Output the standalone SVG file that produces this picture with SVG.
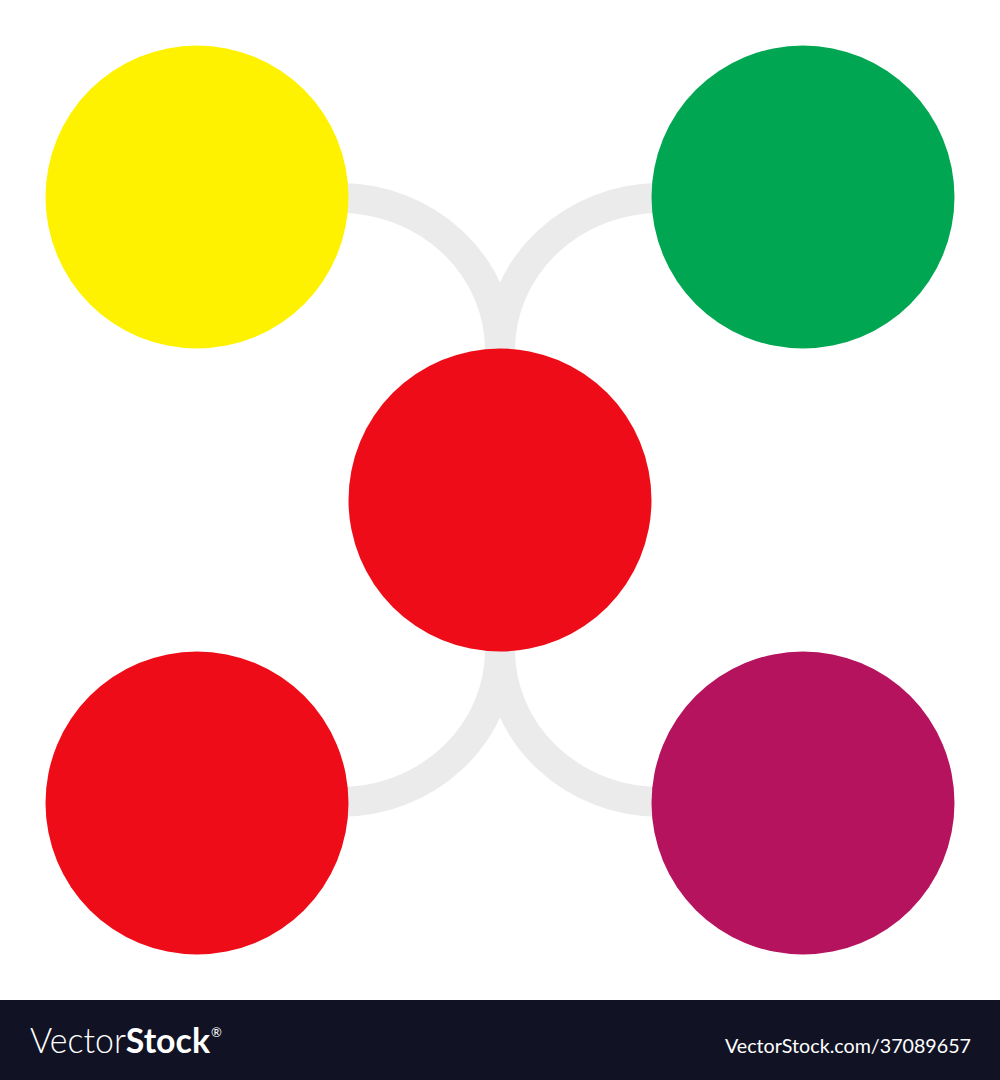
<svg xmlns="http://www.w3.org/2000/svg" width="1000" height="1080" viewBox="0 0 1000 1080">
  <style>
    .link { fill: none; stroke: #ebebeb; stroke-width: 30; }
    .bar-text { fill: #ffffff; font-family: Lato, "Liberation Sans", sans-serif; }
  </style>
  <rect x="0" y="0" width="1000" height="1080" fill="#ffffff"/>
  <g id="connectors">
    <path class="link" d="M 340 198 A 160 152 0 0 1 500 350"/>
    <path class="link" d="M 660 198 A 160 152 0 0 0 500 350"/>
    <path class="link" d="M 340 802 A 160 152 0 0 0 500 650"/>
    <path class="link" d="M 660 802 A 160 152 0 0 1 500 650"/>
  </g>
  <g id="node-yellow"><circle cx="197" cy="197" r="151.5" fill="#fff200"/></g>
  <g id="node-green"><circle cx="803" cy="197" r="151.5" fill="#00a651"/></g>
  <g id="node-center"><circle cx="500" cy="500" r="151.5" fill="#ed0c17"/></g>
  <g id="node-red"><circle cx="197" cy="803" r="151.5" fill="#ed0c17"/></g>
  <g id="node-purple"><circle cx="803" cy="803" r="151.5" fill="#b5135e"/></g>
  <g id="footer">
    <rect x="0" y="1000" width="1000" height="80" fill="#111324"/>
    <text class="bar-text" x="30" y="1053" font-size="35" textLength="180" lengthAdjust="spacingAndGlyphs"><tspan font-weight="300">Vector</tspan><tspan font-weight="700">Stock</tspan></text>
    <text class="bar-text" x="211" y="1037" font-size="13">®</text>
    <text class="bar-text" x="725" y="1053" font-size="19" textLength="246" lengthAdjust="spacingAndGlyphs">VectorStock.com/37089657</text>
  </g>
</svg>
